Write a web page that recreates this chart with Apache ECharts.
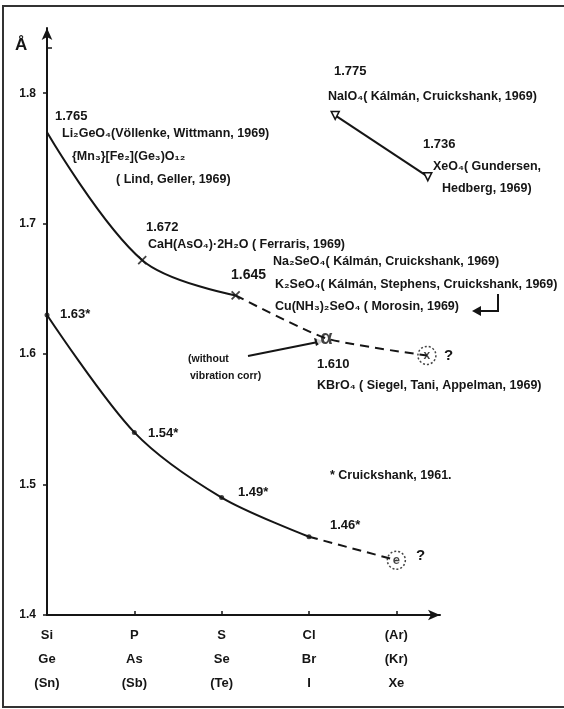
<!DOCTYPE html>
<html><head><meta charset="utf-8">
<script src="https://cdn.jsdelivr.net/npm/echarts@6/dist/echarts.min.js"></script>
<style>html,body{margin:0;padding:0;background:#fff}#c{width:564px;height:709px}</style>
</head><body><div id="c"></div>
<script>
// ---- data ----
const groupLabels = ['Si\nGe\n(Sn)', 'P\nAs\n(Sb)', 'S\nSe\n(Te)', 'Cl\nBr\nI', '(Ar)\n(Kr)\nXe'];
const yTicks = [1.4, 1.5, 1.6, 1.7, 1.8];
// upper curve: measured tetrahedral distances (x = group position, as drawn)
const upperX = [0, 1.09, 2.16, 3.2, 4.35];
const upperY = [1.770, 1.672, 1.645, 1.612, 1.599];
// lower curve: Cruickshank 1961
const lowerX = [0, 1, 2, 3, 4];
const lowerY = [1.63, 1.54, 1.49, 1.46, 1.442];
// NaIO4 - XeO4 pair
const pairX = [3.3, 4.36];
const pairY = [1.783, 1.736];

const pts = (xs, ys, a, b) => xs.slice(a, b).map((x, i) => [x, ys[a + i]]);
const F = 'Liberation Sans, DejaVu Sans, sans-serif';
const INK = '#151515';

const chart = echarts.init(document.getElementById('c'));
const T = (text, x, y, size) => ({type:'text', style:{text, x, y, fill:INK, font:'bold ' + (size||12.5) + 'px ' + F, verticalAlign:'middle'}});

const crossPath = 'path://M0,0L10,10M10,0L0,10';

chart.setOption({
  animation:false,
  backgroundColor:'#fff',
  grid:{left:47, right:124, top:28, bottom:94},
  xAxis:{type:'value', min:0, max:4.5, interval:1,
    axisLine:{lineStyle:{color:INK, width:2}, symbol:['none','arrow'], symbolSize:[8,12]},
    axisTick:{show:true, inside:true, length:4, lineStyle:{color:INK, width:1.5}},
    splitLine:{show:false},
    axisLabel:{showMaxLabel:false, margin:8, color:INK, fontFamily:F, fontWeight:'bold', fontSize:13, lineHeight:24,
      formatter:v => groupLabels[Math.round(v)] || ''}},
  yAxis:{type:'value', min:1.4, max:1.85, interval:0.1,
    axisLine:{show:true, lineStyle:{color:INK, width:2}, symbol:['none','arrow'], symbolSize:[8,12]},
    axisTick:{show:true, length:4, lineStyle:{color:INK, width:1.5}},
    splitLine:{show:false},
    axisLabel:{showMaxLabel:false, margin:11, color:INK, fontFamily:F, fontWeight:'bold', fontSize:12,
      formatter:v => { const t = yTicks.find(k => Math.abs(k - v) < 1e-6); return t ? t.toFixed(1) : ''; }}},
  series:[
    {type:'line', data:pts(upperX, upperY, 0, 3), smooth:0.35, symbol:'none', lineStyle:{color:INK, width:2}},
    {type:'line', data:pts(upperX, upperY, 2, 5), smooth:0.2, symbol:'none', lineStyle:{color:INK, width:2, type:[9,6]}},
    {type:'scatter', data:pts(upperX, upperY, 1, 3), symbol:crossPath, symbolSize:8,
      itemStyle:{color:'none', borderColor:INK, borderWidth:1.8}},
    {type:'scatter', data:pts(upperX, upperY, 3, 4), symbol:'circle', symbolSize:20, itemStyle:{color:'rgba(255,255,255,1)'},
      label:{show:true, position:'inside', formatter:'α', color:INK, fontSize:20, fontWeight:'bold', fontFamily:F}},
    {type:'scatter', data:pts(upperX, upperY, 4, 5), symbol:'circle', symbolSize:18,
      itemStyle:{color:'rgba(0,0,0,0)', borderColor:INK, borderWidth:1.5, borderType:[2,2]},
      label:{show:true, position:'inside', formatter:'x', color:INK, fontSize:12, fontWeight:'bold', fontFamily:F}},
    {type:'line', data:pts(lowerX, lowerY, 0, 4), smooth:0.3, symbol:'none', lineStyle:{color:INK, width:2}},
    {type:'line', data:pts(lowerX, lowerY, 3, 5), symbol:'none', lineStyle:{color:INK, width:2, type:[9,6]}},
    {type:'scatter', data:pts(lowerX, lowerY, 0, 4), symbol:'circle', symbolSize:5, itemStyle:{color:INK}},
    {type:'scatter', data:pts(lowerX, lowerY, 4, 5), symbol:'circle', symbolSize:18,
      itemStyle:{color:'rgba(0,0,0,0)', borderColor:INK, borderWidth:1.5, borderType:[2,2]},
      label:{show:true, position:'inside', formatter:'e', color:INK, fontSize:13, fontWeight:'bold', fontFamily:F}},
    {type:'line', data:pts(pairX, pairY, 0, 2), symbol:'triangle', symbolRotate:180, symbolSize:8,
      itemStyle:{color:'#fff', borderColor:INK, borderWidth:1.5}, lineStyle:{color:INK, width:2}}
  ],
  graphic:[
    {type:'rect', shape:{x:3, y:6, width:575, height:701}, style:{fill:'none', stroke:'#333', lineWidth:2}, silent:true},
    T('Å', 15, 45, 17),
    {type:'line', shape:{x1:47, y1:48, x2:52, y2:48}, style:{stroke:INK, lineWidth:1.5}},
    T('1.765', 55, 116, 13),
    T('Li₂GeO₄(Völlenke, Wittmann, 1969)', 62, 134),
    T('{Mn₃}[Fe₂](Ge₃)O₁₂', 72, 157),
    T('( Lind, Geller, 1969)', 116, 180),
    T('1.672', 146, 227, 13),
    T('CaH(AsO₄)·2H₂O ( Ferraris, 1969)', 148, 245),
    T('1.645', 231, 275, 14),
    T('Na₂SeO₄( Kálmán, Cruickshank, 1969)', 273, 262),
    T('K₂SeO₄( Kálmán, Stephens, Cruickshank, 1969)', 275, 285),
    T('Cu(NH₃)₂SeO₄ ( Morosin, 1969)', 275, 307),
    T('(without', 188, 359, 10.5),
    T('vibration corr)', 190, 376, 10.5),
    T('1.610', 317, 364, 13),
    T('KBrO₄ ( Siegel, Tani, Appelman, 1969)', 317, 386),
    T('1.775', 334, 71, 13),
    T('NaIO₄( Kálmán, Cruickshank, 1969)', 328, 97),
    T('1.736', 423, 144, 13),
    T('XeO₄( Gundersen,', 433, 167),
    T('Hedberg, 1969)', 442, 189),
    T('1.63*', 60, 314, 13),
    T('1.54*', 148, 433, 13),
    T('1.49*', 238, 492, 13),
    T('1.46*', 330, 525, 13),
    T('* Cruickshank, 1961.', 330, 476),
    T('?', 444, 356, 15),
    T('?', 416, 556, 15),
    {type:'line', shape:{x1:248, y1:356, x2:318, y2:342}, style:{stroke:INK, lineWidth:2}},
    {type:'polygon', shape:{points:[[324,341],[314,338],[316,346]]}, style:{fill:INK}},
    {type:'polyline', shape:{points:[[498,294],[498,311],[478,311]]}, style:{stroke:INK, lineWidth:2, fill:'none'}},
    {type:'polygon', shape:{points:[[472,311],[481,306],[481,316]]}, style:{fill:INK}}
  ]
});
</script></body></html>
